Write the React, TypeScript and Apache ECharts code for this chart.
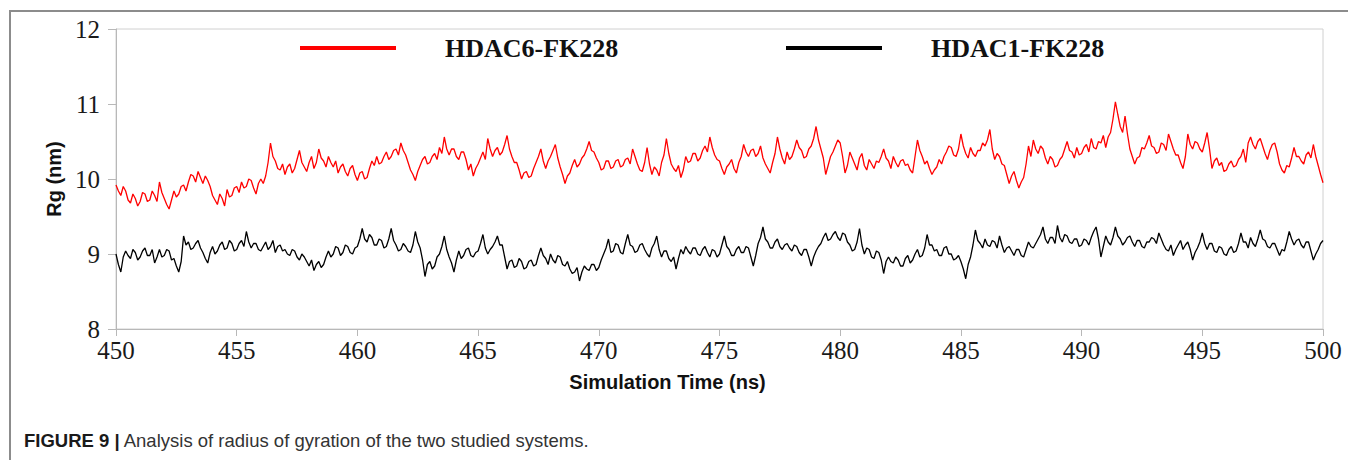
import React, { useEffect, useRef } from "react";
import * as echarts from "echarts";

// Simulation time axis: sampled every 0.1 ns from 450 ns
const timeStart = 450;
const timeStep = 0.1;

const xTicks = [450, 455, 460, 465, 470, 475, 480, 485, 490, 495, 500];
const yTicks = [8, 9, 10, 11, 12];

const seriesNames = ["HDAC6-FK228", "HDAC1-FK228"];

// Rg (nm) of HDAC6-FK228 (one row per ns)
const hdac6 = [
  9.92, 9.84, 9.78, 9.90, 9.84, 9.72, 9.68, 9.80, 9.74, 9.64,
  9.70, 9.82, 9.80, 9.70, 9.72, 9.84, 9.78, 9.70, 9.96, 9.82,
  9.74, 9.66, 9.60, 9.72, 9.84, 9.76, 9.80, 9.90, 9.92, 9.84,
  9.96, 10.06, 10.04, 9.96, 10.10, 10.02, 9.94, 10.04, 9.98, 9.90,
  9.78, 9.72, 9.66, 9.80, 9.74, 9.64, 9.86, 9.76, 9.78, 9.88,
  9.90, 9.82, 9.96, 9.88, 9.90, 10.00, 9.98, 9.88, 9.80, 9.94,
  10.00, 9.94, 10.04, 10.22, 10.48, 10.30, 10.24, 10.14, 10.12, 10.20,
  10.06, 10.16, 10.20, 10.08, 10.14, 10.26, 10.38, 10.22, 10.16, 10.10,
  10.22, 10.30, 10.14, 10.22, 10.40, 10.28, 10.24, 10.16, 10.30, 10.22,
  10.16, 10.24, 10.08, 10.16, 10.20, 10.10, 10.04, 10.14, 10.18, 10.06,
  9.98, 10.08, 10.10, 10.00, 10.02, 10.14, 10.24, 10.18, 10.30, 10.20,
  10.22, 10.30, 10.36, 10.26, 10.30, 10.38, 10.40, 10.32, 10.48, 10.38,
  10.32, 10.22, 10.12, 10.06, 9.98, 10.10, 10.18, 10.26, 10.30, 10.20,
  10.22, 10.30, 10.34, 10.26, 10.42, 10.34, 10.56, 10.40, 10.32, 10.40,
  10.40, 10.30, 10.26, 10.36, 10.36, 10.26, 10.12, 10.20, 10.04, 10.14,
  10.20, 10.28, 10.36, 10.26, 10.54, 10.40, 10.30, 10.38, 10.42, 10.32,
  10.36, 10.46, 10.58, 10.40, 10.30, 10.22, 10.22, 10.12, 10.00, 10.08,
  10.10, 10.02, 10.04, 10.14, 10.22, 10.30, 10.40, 10.24, 10.14, 10.24,
  10.30, 10.38, 10.46, 10.28, 10.16, 10.06, 9.94, 10.04, 10.08, 10.18,
  10.26, 10.16, 10.20, 10.28, 10.32, 10.40, 10.50, 10.38, 10.36, 10.28,
  10.22, 10.12, 10.14, 10.24, 10.24, 10.14, 10.16, 10.24, 10.26, 10.16,
  10.18, 10.26, 10.28, 10.20, 10.40, 10.30, 10.20, 10.12, 10.10, 10.22,
  10.42, 10.20, 10.06, 10.16, 10.12, 10.04, 10.22, 10.32, 10.54, 10.34,
  10.20, 10.14, 10.10, 10.18, 10.02, 10.12, 10.30, 10.22, 10.24, 10.34,
  10.34, 10.24, 10.28, 10.38, 10.44, 10.36, 10.56, 10.42, 10.32, 10.26,
  10.24, 10.14, 10.06, 10.16, 10.20, 10.26, 10.14, 10.08, 10.22, 10.30,
  10.46, 10.36, 10.30, 10.38, 10.40, 10.30, 10.34, 10.44, 10.28, 10.20,
  10.14, 10.08, 10.22, 10.34, 10.56, 10.40, 10.28, 10.20, 10.36, 10.26,
  10.30, 10.40, 10.52, 10.42, 10.38, 10.28, 10.30, 10.40, 10.44, 10.54,
  10.70, 10.52, 10.40, 10.28, 10.06, 10.18, 10.30, 10.36, 10.44, 10.52,
  10.48, 10.30, 10.08, 10.18, 10.36, 10.28, 10.20, 10.12, 10.28, 10.34,
  10.18, 10.12, 10.26, 10.20, 10.14, 10.24, 10.22, 10.30, 10.40, 10.28,
  10.24, 10.14, 10.30, 10.22, 10.16, 10.24, 10.26, 10.18, 10.20, 10.12,
  10.08, 10.30, 10.52, 10.38, 10.30, 10.20, 10.24, 10.14, 10.06, 10.12,
  10.16, 10.26, 10.20, 10.30, 10.36, 10.44, 10.42, 10.32, 10.30, 10.40,
  10.60, 10.44, 10.34, 10.28, 10.42, 10.34, 10.30, 10.38, 10.38, 10.48,
  10.44, 10.52, 10.66, 10.40, 10.26, 10.34, 10.30, 10.20, 10.18, 10.06,
  9.94, 10.04, 10.10, 9.98, 9.88, 9.96, 10.02, 10.20, 10.44, 10.30,
  10.52, 10.40, 10.34, 10.44, 10.40, 10.28, 10.20, 10.30, 10.26, 10.16,
  10.18, 10.26, 10.30, 10.40, 10.50, 10.38, 10.36, 10.28, 10.42, 10.32,
  10.34, 10.42, 10.46, 10.36, 10.54, 10.42, 10.40, 10.50, 10.48, 10.58,
  10.42, 10.56, 10.62, 10.80, 11.03, 10.86, 10.70, 10.62, 10.84, 10.60,
  10.40, 10.30, 10.20, 10.28, 10.30, 10.42, 10.40, 10.48, 10.58, 10.44,
  10.42, 10.34, 10.36, 10.48, 10.46, 10.38, 10.60, 10.50, 10.40, 10.32,
  10.32, 10.22, 10.14, 10.30, 10.60, 10.46, 10.40, 10.50, 10.48, 10.40,
  10.36, 10.48, 10.62, 10.40, 10.14, 10.24, 10.28, 10.18, 10.22, 10.10,
  10.12, 10.20, 10.24, 10.16, 10.18, 10.26, 10.30, 10.40, 10.22, 10.48,
  10.56, 10.46, 10.40, 10.50, 10.54, 10.44, 10.34, 10.26, 10.38, 10.46,
  10.48, 10.36, 10.20, 10.12, 10.08, 10.18, 10.16, 10.28, 10.42, 10.30,
  10.30, 10.24, 10.20, 10.32, 10.36, 10.28, 10.46, 10.30, 10.18, 10.06,
  9.95,
];

// Rg (nm) of HDAC1-FK228 (one row per ns)
const hdac1 = [
  9.00, 8.86, 8.76, 8.96, 9.04, 8.98, 8.94, 9.06, 9.02, 8.92,
  8.96, 9.04, 9.08, 8.98, 8.98, 9.06, 8.88, 8.96, 9.06, 8.96,
  8.98, 9.06, 9.04, 8.92, 8.94, 8.84, 8.76, 8.90, 9.24, 9.12,
  9.16, 9.06, 9.08, 9.14, 9.18, 9.08, 9.02, 8.94, 8.88, 9.02,
  9.10, 9.00, 9.04, 9.12, 9.16, 9.06, 9.08, 9.18, 9.14, 9.04,
  9.06, 9.14, 9.18, 9.10, 9.30, 9.16, 9.08, 9.14, 9.14, 9.06,
  9.04, 9.10, 9.16, 9.06, 9.10, 9.18, 9.02, 9.10, 9.12, 9.04,
  9.06, 9.00, 8.98, 9.06, 9.04, 8.96, 8.92, 9.00, 8.96, 8.90,
  8.84, 8.92, 8.78, 8.86, 8.90, 8.82, 8.86, 8.96, 9.04, 8.96,
  9.00, 9.10, 9.08, 8.98, 9.02, 9.12, 9.10, 9.02, 9.00, 9.08,
  9.10, 9.20, 9.34, 9.20, 9.16, 9.26, 9.22, 9.12, 9.12, 9.20,
  9.18, 9.08, 9.10, 9.20, 9.34, 9.18, 9.12, 9.04, 9.06, 9.14,
  9.10, 9.04, 9.02, 9.12, 9.30, 9.16, 9.08, 8.92, 8.70, 8.86,
  8.90, 8.80, 8.84, 8.96, 9.00, 9.10, 9.24, 9.06, 8.96, 8.88,
  8.76, 8.92, 9.04, 8.94, 8.98, 9.06, 9.08, 8.98, 8.96, 9.02,
  9.04, 9.14, 9.26, 9.08, 9.00, 9.06, 9.10, 9.16, 9.24, 9.12,
  9.12, 8.96, 8.80, 8.90, 8.92, 8.82, 8.84, 8.94, 8.90, 8.80,
  8.82, 8.90, 8.92, 8.84, 8.86, 8.98, 9.08, 8.98, 8.94, 8.86,
  9.00, 8.92, 8.88, 8.98, 8.96, 8.86, 8.84, 8.90, 8.80, 8.74,
  8.76, 8.82, 8.64, 8.76, 8.84, 8.80, 8.78, 8.86, 8.86, 8.78,
  8.82, 8.92, 9.00, 9.08, 9.20, 9.02, 9.04, 9.14, 9.12, 9.02,
  9.00, 9.14, 9.26, 9.12, 9.10, 9.02, 9.04, 9.12, 9.14, 9.06,
  9.00, 8.96, 9.08, 9.14, 9.24, 9.06, 8.96, 9.04, 9.04, 8.94,
  8.90, 8.96, 8.80, 8.94, 9.06, 9.00, 9.10, 9.04, 9.00, 9.08,
  9.08, 9.00, 8.98, 9.06, 9.10, 9.02, 8.96, 9.06, 9.04, 8.96,
  9.00, 9.12, 9.24, 9.10, 9.06, 8.98, 8.98, 9.06, 9.10, 9.02,
  9.02, 9.10, 9.08, 8.96, 8.84, 8.98, 9.14, 9.22, 9.36, 9.20,
  9.16, 9.08, 9.08, 9.16, 9.20, 9.10, 9.06, 9.12, 9.14, 9.08,
  9.04, 9.12, 9.10, 9.02, 8.98, 9.06, 9.06, 8.96, 8.84, 8.96,
  9.04, 9.10, 9.14, 9.22, 9.28, 9.18, 9.20, 9.26, 9.30, 9.22,
  9.18, 9.28, 9.26, 9.16, 9.12, 9.04, 9.06, 9.16, 9.34, 9.12,
  9.00, 9.08, 9.06, 8.96, 8.94, 9.04, 9.02, 8.92, 8.74, 8.90,
  8.96, 8.90, 8.88, 8.96, 8.92, 8.84, 8.84, 8.94, 8.98, 8.88,
  8.92, 9.00, 9.06, 8.96, 8.98, 9.08, 9.26, 9.12, 9.12, 9.04,
  9.06, 8.98, 8.98, 9.08, 9.10, 9.00, 9.00, 8.92, 8.94, 8.98,
  8.90, 8.80, 8.67, 8.86, 8.96, 9.12, 9.32, 9.18, 9.14, 9.08,
  9.20, 9.12, 9.10, 9.18, 9.16, 9.08, 9.24, 9.12, 9.02, 9.08,
  9.10, 9.04, 8.98, 9.06, 9.06, 8.98, 8.96, 9.06, 9.16, 9.10,
  9.08, 9.14, 9.20, 9.26, 9.36, 9.20, 9.14, 9.22, 9.22, 9.14,
  9.38, 9.22, 9.16, 9.26, 9.24, 9.16, 9.14, 9.20, 9.20, 9.10,
  9.12, 9.20, 9.18, 9.12, 9.22, 9.30, 9.36, 9.20, 8.96, 9.10,
  9.24, 9.16, 9.12, 9.22, 9.36, 9.24, 9.20, 9.12, 9.16, 9.22,
  9.24, 9.16, 9.10, 9.18, 9.18, 9.10, 9.08, 9.16, 9.16, 9.22,
  9.20, 9.14, 9.28, 9.20, 9.12, 9.06, 9.04, 9.12, 8.98, 9.06,
  9.12, 9.18, 9.06, 9.12, 9.16, 9.06, 8.92, 9.02, 9.08, 9.16,
  9.28, 9.14, 9.06, 9.14, 9.14, 9.04, 9.02, 9.10, 9.08, 9.00,
  8.98, 9.06, 9.10, 9.02, 9.04, 9.14, 9.28, 9.16, 9.16, 9.08,
  9.22, 9.14, 9.10, 9.20, 9.32, 9.20, 9.18, 9.10, 9.08, 9.14,
  9.14, 9.06, 8.98, 9.06, 9.04, 9.16, 9.30, 9.20, 9.12, 9.18,
  9.20, 9.12, 9.08, 9.16, 9.16, 9.04, 8.92, 9.00, 9.06, 9.14,
  9.18,
];

const captionLabel = "FIGURE 9 |";
const captionText = " Analysis of radius of gyration of the two studied systems.";

const toPairs = (vals: number[]) =>
  vals.map((v, i) => [Number((timeStart + i * timeStep).toFixed(1)), v]);

export default function App() {
  const ref = useRef<HTMLDivElement>(null);

  useEffect(() => {
    if (!ref.current) return;
    const chart = echarts.init(ref.current, null, { renderer: "svg" });

    const legendText = {
      fontFamily: "Liberation Serif",
      fontWeight: "bold" as const,
      fontSize: 26,
      color: "#111",
      padding: [0, 0, 0, 44],
    };

    chart.setOption({
      animation: false,
      backgroundColor: "#fff",
      grid: {
        left: 116,
        right: 25,
        top: 29,
        bottom: 131,
        show: true,
        borderColor: "#d0d0d0",
        borderWidth: 1,
      },
      legend: [
        {
          data: [seriesNames[0]],
          left: 300,
          top: 35,
          padding: 0,
          icon: "rect",
          itemWidth: 96,
          itemHeight: 4,
          textStyle: legendText,
          selectedMode: false,
        },
        {
          data: [seriesNames[1]],
          left: 786,
          top: 35,
          padding: 0,
          icon: "rect",
          itemWidth: 96,
          itemHeight: 4,
          textStyle: legendText,
          selectedMode: false,
        },
      ],
      xAxis: {
        type: "value",
        min: xTicks[0],
        max: xTicks[xTicks.length - 1],
        interval: 5,
        name: "Simulation Time (ns)",
        nameLocation: "middle",
        nameGap: 43,
        nameTextStyle: {
          fontFamily: "Liberation Sans",
          fontWeight: "bold",
          fontSize: 20,
          color: "#111",
          padding: [0, 104, 0, 0],
        },
        axisLine: { show: true, lineStyle: { color: "#b8b8b8", width: 1 } },
        axisTick: { show: true, length: 7, lineStyle: { color: "#b8b8b8" } },
        axisLabel: {
          fontFamily: "Liberation Serif",
          fontSize: 25,
          color: "#1a1a1a",
          margin: 9,
        },
        splitLine: { show: false },
      },
      yAxis: {
        type: "value",
        min: yTicks[0],
        max: yTicks[yTicks.length - 1],
        interval: 1,
        name: "Rg (nm)",
        nameLocation: "middle",
        nameRotate: 90,
        nameGap: 52,
        nameTextStyle: {
          fontFamily: "Liberation Sans",
          fontWeight: "bold",
          fontSize: 20,
          color: "#111",
        },
        axisLine: { show: true, lineStyle: { color: "#b8b8b8", width: 1 } },
        axisTick: { show: true, length: 8, lineStyle: { color: "#b8b8b8" } },
        axisLabel: {
          fontFamily: "Liberation Serif",
          fontSize: 25,
          color: "#1a1a1a",
          margin: 16,
        },
        splitLine: { show: false },
      },
      series: [
        {
          name: seriesNames[0],
          type: "line",
          data: toPairs(hdac6),
          showSymbol: false,
          symbol: "none",
          color: "#ff0000",
          lineStyle: { color: "#ff0000", width: 1.3 },
        },
        {
          name: seriesNames[1],
          type: "line",
          data: toPairs(hdac1),
          showSymbol: false,
          symbol: "none",
          color: "#000000",
          lineStyle: { color: "#000000", width: 1.3 },
        },
      ],
      graphic: [
        {
          type: "rect",
          shape: { x: 10, y: 11, width: 1400, height: 500 },
          style: { fill: "none", stroke: "#8c8c8c", lineWidth: 2 },
          silent: true,
        },
        {
          type: "text",
          left: 24,
          top: 431,
          style: {
            text: "{b|" + captionLabel + "}{r|" + captionText + "}",
            rich: {
              b: {
                fontFamily: "Liberation Sans",
                fontWeight: "bold",
                fontSize: 18.5,
                fill: "#1a1a1a",
              },
              r: {
                fontFamily: "Liberation Sans",
                fontSize: 18.5,
                fill: "#333",
              },
            },
          },
        },
      ],
    });

    return () => chart.dispose();
  }, []);

  return (
    <div
      ref={ref}
      style={{ position: "fixed", left: 0, top: 0, width: 1348, height: 460 }}
    />
  );
}
